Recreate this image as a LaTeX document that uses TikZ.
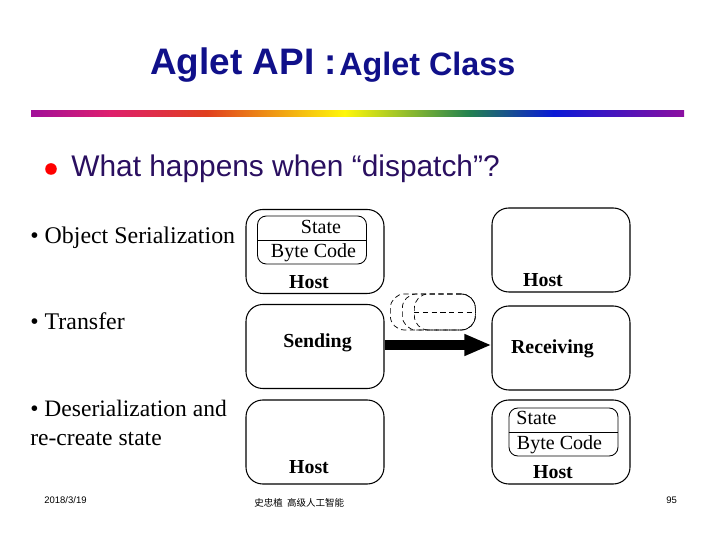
\documentclass[tikz,border=0pt]{standalone}
\usepackage{fontspec}
\setmainfont{Liberation Serif}
\setsansfont{Liberation Sans}
\newfontfamily\cjk{Noto Sans CJK SC}
\usetikzlibrary{arrows.meta}

\definecolor{titleblue}{HTML}{10108A}
\definecolor{bodyblue}{HTML}{2A0F60}
\pgfdeclarehorizontalshading{rainbowbar}{100bp}{
  rgb(0bp)=(0.63,0.06,0.60);
  rgb(25bp)=(0.63,0.06,0.60);
  rgb(31bp)=(0.87,0.12,0.43);
  rgb(38.5bp)=(0.88,0.25,0.12);
  rgb(49bp)=(1,0.97,0.04);
  rgb(58.5bp)=(0.14,0.51,0.31);
  rgb(65bp)=(0.04,0.10,0.84);
  rgb(75bp)=(0.55,0.06,0.63);
  rgb(100bp)=(0.55,0.06,0.63)}

\tikzset{
  hostbox/.style={draw, line width=0.6pt, rounded corners=9.5pt, minimum width=2.76cm, minimum height=1.68cm, inner sep=0},
  statebox/.style={draw, line width=0.5pt, rounded corners=5pt, minimum width=2.18cm, minimum height=0.96cm, inner sep=0},
  ghostbox/.style={draw, densely dashed, line width=0.4pt, rounded corners=8pt, inner sep=0},
  boxlabel/.style={font=\fontsize{11.3}{13}\selectfont\bfseries, anchor=base, inner sep=0},
  fieldlabel/.style={font=\fontsize{11.4}{13}\selectfont, anchor=base, inner sep=0},
  sidelabel/.style={font=\fontsize{13.4}{16}\selectfont, anchor=base west, inner sep=0},
  footlabel/.style={font=\sffamily\fontsize{5.4}{7}\selectfont, anchor=base west, inner sep=0}
}

\begin{document}
\begin{tikzpicture}[x=0.02cm, y=-0.02cm]
\useasboundingbox (0,0) rectangle (720,540);

% title and rule
\node[anchor=base west, inner sep=0, text=titleblue, font=\sffamily\bfseries\fontsize{21}{24}\selectfont] (title) at (150,75) {Aglet API :};
\node[anchor=base west, inner sep=0, text=titleblue, font=\sffamily\bfseries\fontsize{18.4}{20}\selectfont] (subtitle) at (339,76) {Aglet Class};
\shade[shading=rainbowbar] (31,111) rectangle (684,117);

% question
\fill[red] (51,169) circle(5.8);
\node[anchor=base west, inner sep=0, text=bodyblue, font=\sffamily\fontsize{17}{19}\selectfont] (question) at (71,177) {What happens when “dispatch”?};

% left column
\node[sidelabel, font=\fontsize{13.6}{16}\selectfont] (serial) at (30,244) {• Object Serialization};
\node[sidelabel, font=\fontsize{13.6}{16}\selectfont] (transfer) at (30,330) {• Transfer};
\node[sidelabel] (deser) at (30,417) {• Deserialization and};
\node[sidelabel] (recreate) at (30,445) {re-create state};

% host boxes
\foreach \name/\x/\y in {srctop/315/251.5, srcmid/315/346.5, srcbot/315/442, dsttop/561/250, dstmid/561/348, dstbot/561/442}
  \node[hostbox] (\name) at (\x,\y) {};

% state and byte code
\node[statebox] (srcstate) at (312,240) {};
\draw[line width=0.5pt] (srcstate.west) -- (srcstate.east);
\node[fieldlabel] (srcstatetxt) at (321,234) {State};
\node[fieldlabel] (srccode) at (313.5,258) {Byte Code};
\node[statebox] (dststate) at (563.5,432) {};
\draw[line width=0.5pt] (dststate.west) -- (dststate.east);
\node[fieldlabel] (dststatetxt) at (536.5,424) {State};
\node[fieldlabel] (dstcode) at (559.5,449) {Byte Code};

% box labels
\node[boxlabel] (hostA) at (309,288.5) {Host};
\node[boxlabel] (hostB) at (543,287) {Host};
\node[boxlabel] (sending) at (317.5,348) {Sending};
\node[boxlabel] (receiving) at (552.5,354) {Receiving};
\node[boxlabel] (hostC) at (309,473) {Host};
\node[boxlabel] (hostD) at (553,478) {Host};

% moving copies
\foreach \name/\x in {ghostA/390, ghostB/402, ghostC/414}
  \node[ghostbox, anchor=west, minimum width={(475-\x)*0.02cm}, minimum height=0.72cm] (\name) at (\x,312) {};
\draw[densely dashed, line width=0.4pt] (ghostC.west) -- (ghostC.east);

% transfer arrow
\draw[-{Triangle[length=0.54cm, width=0.4cm]}, line width=0.22cm] (srcmid.east |- 0,345) -- (dstmid.west |- 0,345);

% footer
\node[footlabel] (date) at (44,503) {2018/3/19};
\node[footlabel, font=\cjk\fontsize{5.4}{7}\selectfont] (author) at (254,506) {史忠植\ \ 高级人工智能};
\node[footlabel] (page) at (666,503) {95};

\end{tikzpicture}
\end{document}
